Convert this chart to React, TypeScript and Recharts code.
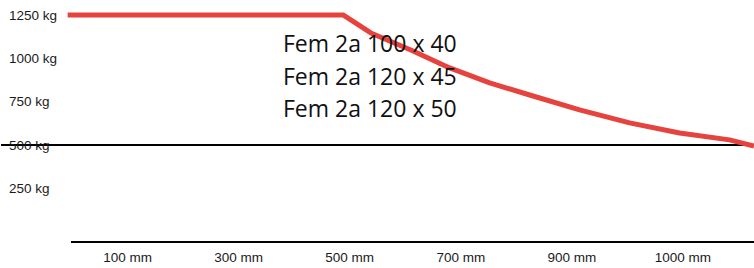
import React from 'react';
import { LineChart, Line, XAxis, YAxis, ReferenceLine } from 'recharts';

// x positions are in "tick slot" units (100 mm = slot 1, 1000 mm = slot 6)
const slotPositions = [0.46, 2.94, 3.19, 3.55, 3.9, 4.26, 4.62, 5.07, 5.52, 5.97, 6.42, 6.64];
const loadKg = [1250, 1250, 1146, 1048, 944, 858, 788, 702, 627, 569, 529, 494];

const xTickSlots = [1, 2, 3, 4, 5, 6];
const xTickLabels = ['100 mm', '300 mm', '500 mm', '700 mm', '900 mm', '1000 mm'];
const yTicks = [250, 500, 750, 1000, 1250];
const yUnit = 'kg';
const limitKg = 500;
const modelLabels = ['Fem 2a 100 x 40', 'Fem 2a 120 x 45', 'Fem 2a 120 x 50'];

const data = slotPositions.map((s, i) => ({ slot: s, load: loadKg[i] }));

const renderYTick = (props: any) => {
  const { y, payload } = props;
  return (
    <text
      key={`yt-${payload.value}`}
      x={9}
      y={y}
      dy="0.36em"
      textAnchor="start"
      fontFamily="Liberation Sans, Arial, sans-serif"
      fontSize={13.5}
      fill="#1a1a1a"
    >
      {`${payload.value} ${yUnit}`}
    </text>
  );
};

export default function App() {
  return (
    <div style={{ position: 'absolute', left: 0, top: 0, width: 754, height: 268, background: '#fff' }}>
      <LineChart width={754} height={268} data={data} margin={{ top: 0, right: 0, bottom: 0, left: 0 }}>
        <XAxis
          dataKey="slot"
          type="number"
          domain={[-0.14, 6.64]}
          allowDataOverflow
          ticks={xTickSlots}
          interval={0}
          tickFormatter={(v: number) => xTickLabels[xTickSlots.indexOf(v)] ?? ''}
          axisLine={false}
          tickLine={false}
          tickSize={0}
          tickMargin={10}
          height={26}
          tick={{ fontFamily: 'Liberation Sans, Arial, sans-serif', fontSize: 13.5, fill: '#1a1a1a' }}
        />
        <YAxis
          type="number"
          domain={[-60, 1336]}
          allowDataOverflow
          ticks={yTicks}
          interval={0}
          width={1}
          axisLine={false}
          tickLine={false}
          tick={renderYTick}
        />
        <ReferenceLine
          segment={[{ x: 0.49, y: -60 }, { x: 6.64, y: -60 }]}
          stroke="#000"
          strokeWidth={2}
          ifOverflow="visible"
        />
        <ReferenceLine y={limitKg} stroke="#000" strokeWidth={2} />
        <Line
          type="linear"
          dataKey="load"
          stroke="#e6433e"
          strokeWidth={5}
          strokeLinejoin="round"
          dot={false}
          isAnimationActive={false}
        />
      </LineChart>
      <div
        style={{
          position: 'absolute',
          left: 283,
          top: 27,
          fontFamily: '"Open Sans", sans-serif',
          fontSize: 23,
          lineHeight: '32.5px',
          color: '#111',
          whiteSpace: 'nowrap',
        }}
      >
        {modelLabels.map((t) => (
          <div key={t}>{t}</div>
        ))}
      </div>
    </div>
  );
}
